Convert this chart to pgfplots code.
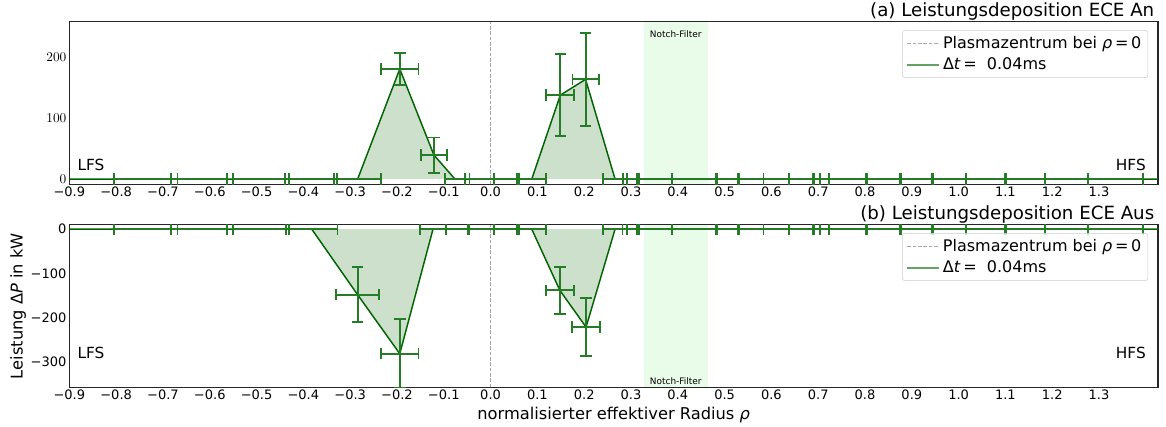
\documentclass[border=0pt]{standalone}
\usepackage{fontspec}
\setmainfont{DejaVu Sans}
\usepackage{pgfplots}
\pgfplotsset{compat=1.18}
\usepackage{pgfplotstable}
\definecolor{dgreen}{RGB}{0,100,0}
\definecolor{lgreen}{RGB}{144,238,144}
\colorlet{ebgreen}{dgreen!85!white}

\pgfplotstableread{
x y xe ye
-0.95 0 0 0
-0.737 0 0.068 0
-0.623 0 0.06 0
-0.49 0 0.06 0
-0.384 0 0.055 0
-0.284 0 0.05 0
-0.194 181 0.04 26
-0.121 39.5 0.028 29
-0.076 0 0.022 0
-0.019 0 0.026 0
0.034 0 0.027 0
0.088 0 0.031 0
0.149 138 0.03 67
0.203 164 0.028 76
0.266 0 0.025 0
0.30 0 0.018 0
0.35 0 0.037 0
0.435 0 0.048 0
0.506 0 0.024 0
0.556 0 0.027 0
0.61 0 0.027 0
0.665 0 0.027 0
0.706 0 0.017 0
0.753 0 0.05 0
0.840 0 0.036 0
0.910 0 0.035 0
0.980 0 0.036 0
1.058 0 0.042 0
1.143 0 0.042 0
1.230 0 0.046 0
1.335 0 0.058 0
1.45 0 0 0
}\topdata

\pgfplotstableread{
x y xe ye
-0.95 0 0 0
-0.737 0 0.068 0
-0.623 0 0.06 0
-0.49 0 0.06 0
-0.382 0 0.055 0
-0.284 -148 0.046 62
-0.194 -281 0.04 78
-0.123 0 0.027 0
-0.072 0 0.024 0
-0.019 0 0.026 0
0.034 0 0.027 0
0.088 0 0.031 0
0.148 -138 0.03 53
0.204 -221 0.03 66
0.266 0 0.025 0
0.30 0 0.018 0
0.35 0 0.037 0
0.435 0 0.048 0
0.506 0 0.024 0
0.556 0 0.027 0
0.61 0 0.027 0
0.665 0 0.027 0
0.706 0 0.017 0
0.753 0 0.05 0
0.840 0 0.036 0
0.910 0 0.035 0
0.980 0 0.036 0
1.058 0 0.042 0
1.143 0 0.042 0
1.230 0 0.046 0
1.335 0 0.058 0
1.45 0 0 0
}\botdata

\pgfplotsset{
  myaxis/.style={
    scale only axis, width=816.5pt, height=122pt,
    xmin=-0.9, xmax=1.426,
    xtick={-0.9,-0.8,-0.7,-0.6,-0.5,-0.4,-0.3,-0.2,-0.1,0,0.1,0.2,0.3,0.4,0.5,0.6,0.7,0.8,0.9,1.0,1.1,1.2,1.3},
    xticklabels={−0.9,−0.8,−0.7,−0.6,−0.5,−0.4,−0.3,−0.2,−0.1,0.0,0.1,0.2,0.3,0.4,0.5,0.6,0.7,0.8,0.9,1.0,1.1,1.2,1.3},
    xtick pos=left, ytick pos=left,
    major tick length=0pt,
    axis line style={black!85, line width=0.8pt},
    tick label style={font=\fontsize{9.75}{11}\selectfont},
    xticklabel style={inner ysep=2pt},
    yticklabel style={inner xsep=2pt},
    clip mode=individual,
    legend style={at={(0.991,0.949)}, anchor=north east, draw=black!20, rounded corners=2pt,
      fill=white, fill opacity=0.8, text opacity=1, font=\fontsize{12}{14}\selectfont,
      inner xsep=3pt, inner ysep=2.5pt, row sep=1.5pt, nodes={inner sep=2pt}},
    legend cell align=left,
    legend image code/.code={\draw[##1] (0pt,0pt) -- (24pt,0pt);},
  },
  eb/.style={dgreen, line width=1.1pt, mark=none,
    error bars/.cd, x dir=both, x explicit, y dir=both, y explicit,
    error bar style={line width=1.4pt, ebgreen},
    error mark options={rotate=90, ebgreen, line width=1.4pt, mark size=4.3pt}},
}

\begin{document}
\begin{tikzpicture}
\path[use as bounding box] (-52pt,16.3pt) rectangle (822.5pt,-303.95pt);

% ---------- top panel ----------
\begin{axis}[myaxis, at={(0pt,0pt)}, anchor=north west,
  ymin=-8.7, ymax=258.7, ytick={0,100,200}]
\addplot[fill=lgreen, fill opacity=0.2, draw=none, forget plot]
  coordinates {(0.328,-8.7) (0.464,-8.7) (0.464,258.7) (0.328,258.7)} -- cycle;
\addplot[black!35, line width=0.75pt, dash pattern=on 2.8pt off 1.2pt, forget plot]
  coordinates {(0,-8.7) (0,258.7)};
\addplot[fill=dgreen, fill opacity=0.2, draw=none, forget plot]
  table[x=x, y=y]{\topdata} \closedcycle;
\addplot[forget plot, eb] table[x=x, y=y, x error=xe, y error=ye]{\topdata};
\addlegendimage{black!35, line width=0.75pt, dash pattern=on 2.8pt off 1.2pt}
\addlegendentry{Plasmazentrum bei \textit{ρ}\,=\,0}
\addlegendimage{dgreen!60!white, line width=1.5pt}
\addlegendentry{Δ\textit{t}\,=\ \ 0.04ms}
\node[anchor=south east, inner sep=1pt, font=\fontsize{13.65}{15}\selectfont]
  at (rel axis cs:0.998,1) {(a) Leistungsdeposition ECE An};
\node[anchor=base west, inner sep=0pt, font=\fontsize{11.5}{13}\selectfont]
  at (rel axis cs:0.0073,0.088) {LFS};
\node[anchor=base east, inner sep=0pt, font=\fontsize{11.5}{13}\selectfont]
  at (rel axis cs:0.989,0.088) {HFS};
\node[anchor=north, inner sep=0pt, font=\fontsize{6.7}{8}\selectfont]
  at (rel axis cs:0.557,0.946) {Notch-Filter};
\end{axis}

% ---------- bottom panel ----------
\begin{axis}[myaxis, at={(0pt,-152.25pt)}, anchor=north west,
  ymin=-357, ymax=10, ytick={0,-100,-200,-300},
  yticklabels={0,−100,−200,−300}]
\addplot[fill=lgreen, fill opacity=0.2, draw=none, forget plot]
  coordinates {(0.328,-357) (0.464,-357) (0.464,10) (0.328,10)} -- cycle;
\addplot[black!35, line width=0.75pt, dash pattern=on 2.8pt off 1.2pt, forget plot]
  coordinates {(0,-357) (0,10)};
\addplot[fill=dgreen, fill opacity=0.2, draw=none, forget plot]
  table[x=x, y=y]{\botdata} \closedcycle;
\addplot[forget plot, eb] table[x=x, y=y, x error=xe, y error=ye]{\botdata};
\addlegendimage{black!35, line width=0.75pt, dash pattern=on 2.8pt off 1.2pt}
\addlegendentry{Plasmazentrum bei \textit{ρ}\,=\,0}
\addlegendimage{dgreen!60!white, line width=1.5pt}
\addlegendentry{Δ\textit{t}\,=\ \ 0.04ms}
\node[anchor=south east, inner sep=1pt, font=\fontsize{13.65}{15}\selectfont]
  at (rel axis cs:0.998,1) {(b) Leistungsdeposition ECE Aus};
\node[anchor=base west, inner sep=0pt, font=\fontsize{11.5}{13}\selectfont]
  at (rel axis cs:0.0073,0.175) {LFS};
\node[anchor=base east, inner sep=0pt, font=\fontsize{11.5}{13}\selectfont]
  at (rel axis cs:0.989,0.175) {HFS};
\node[anchor=base, inner sep=0pt, font=\fontsize{6.7}{8}\selectfont]
  at (rel axis cs:0.557,0.017) {Notch-Filter};
\node[rotate=90, inner sep=0pt, font=\fontsize{12.2}{14}\selectfont]
  at (rel axis cs:-0.047,0.5) {Leistung Δ\textit{P} in kW};
\node[anchor=north, inner sep=0pt, font=\fontsize{12.2}{14}\selectfont]
  at (rel axis cs:0.5,-0.118) {normalisierter effektiver Radius \textit{ρ}};
\end{axis}
\end{tikzpicture}
\end{document}
